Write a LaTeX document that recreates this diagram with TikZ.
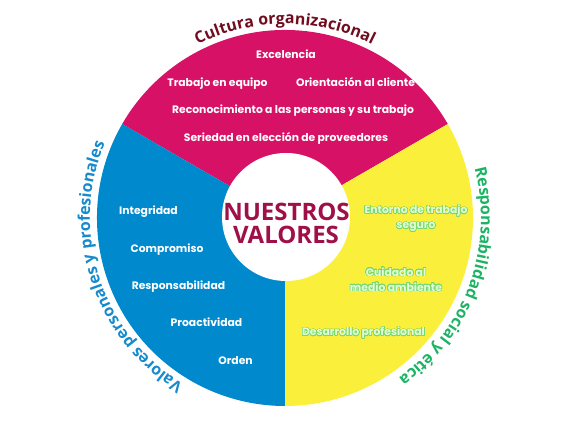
\documentclass[tikz,border=0pt]{standalone}
\usepackage{fontspec}
\setmainfont{Poppins}
\newfontfamily\curvefont{Open Sans}
\usepackage{contour}
\contourlength{0.55pt}
\contournumber{24}
\usetikzlibrary{decorations.text}
\definecolor{pinkc}{RGB}{215,17,102}
\definecolor{bluec}{RGB}{0,137,204}
\definecolor{yellowc}{RGB}{250,240,60}
\definecolor{titlec}{RGB}{112,12,30}
\definecolor{centerc}{RGB}{160,16,72}
\definecolor{lbluec}{RGB}{22,138,203}
\definecolor{greenc}{RGB}{28,180,100}
\definecolor{yfill}{RGB}{225,255,215}
\definecolor{youtline}{RGB}{120,215,110}
\begin{document}
\begin{tikzpicture}[x=1pt,y=1pt,
  item/.style={font=\fontsize{10.8}{12}\selectfont\bfseries, text=white, anchor=base, inner sep=0pt},
  yitem/.style={font=\fontsize{10.8}{15}\selectfont\bfseries, text=yfill, align=center, inner sep=0pt},
  title/.style={font=\curvefont\bfseries\fontsize{24}{24}\selectfont, text=centerc, anchor=base, inner sep=0pt},
]
\useasboundingbox (0,0) rectangle (567,425);
\coordinate (O) at (285,207);
% sectors
\fill[pinkc] (O) -- ++(30:188) arc (30:150:188) -- cycle;
\fill[bluec] (O) -- ++(150:188) arc (150:270:188) -- cycle;
\fill[yellowc] (O) -- ++(270:188) arc (270:390:188) -- cycle;
\node[circle, fill=white, minimum size=128pt, inner sep=0pt] (inner) at (286,208) {};
% centre title
\node[title] (t1) at (286.5,204.5) {NUESTROS};
\node[title] (t2) at (286,181.5) {VALORES};
% pink items
\node[item] (p1) at (286,366) {Excelencia};
\node[item] (p2) at (217.5,338) {Trabajo en equipo};
\node[item] (p3) at (355.5,338) {Orientación al cliente};
\node[item] (p4) at (293,311) {Reconocimiento a las personas y su trabajo};
\node[item] (p5) at (286,283) {Seriedad en elección de proveedores};
% blue items
\node[item] (b1) at (148.5,210) {Integridad};
\node[item] (b2) at (167,172) {Compromiso};
\node[item] (b3) at (178.5,135) {Responsabilidad};
\node[item] (b4) at (206.5,98) {Proactividad};
\node[item] (b5) at (235.5,60) {Orden};
% yellow items
\node[yitem] (y1) at (416,206.5) {\contour{youtline}{Entorno de trabajo}\\\contour{youtline}{seguro}};
\node[yitem] (y2) at (396,145.5) {\contour{youtline}{Cuidado al}\\\contour{youtline}{medio ambiente}};
\node[yitem] (y3) at (363.5,92) {\contour{youtline}{Desarrollo profesional}};
% curved labels
\path[decorate, decoration={text along path, text align=center, text color=titlec,
  text={|\curvefont\bfseries\fontsize{16}{16}\selectfont|Cultura organizacional}}]
  [shift={(285,207)}] (135:194) arc (135:45:194);
\path[decorate, decoration={text along path, text align=center, text color=lbluec,
  text={|\curvefont\bfseries\fontsize{16}{16}\selectfont|Valores personales y profesionales}}]
  [shift={(285,207)}] (258:195) arc (258:138:195);
\path[decorate, decoration={text along path, text align=center, text color=greenc,
  text={|\curvefont\bfseries\fontsize{16}{16}\selectfont|Responsabilidad social y ética}}]
  [shift={(285,207)}] (40:196) arc (40:-80:196);
\end{tikzpicture}
\end{document}
